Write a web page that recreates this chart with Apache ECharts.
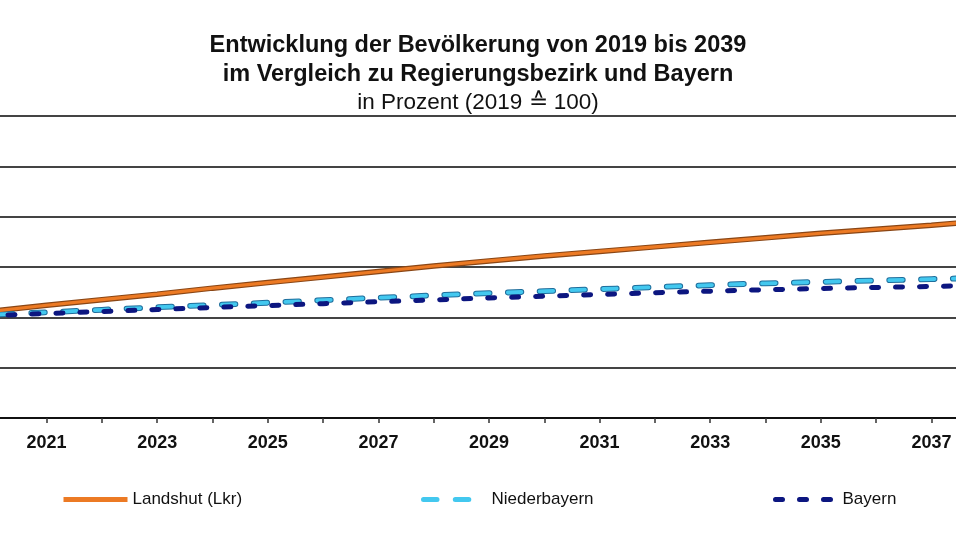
<!DOCTYPE html>
<html>

<head>
    <meta charset="utf-8">
    <title>Bevölkerungsentwicklung</title>
    <script src="https://cdn.jsdelivr.net/npm/echarts@6/dist/echarts.min.js"></script>
    <style>
        html, body { margin: 0; padding: 0; background: #fff; }
    </style>
</head>

<body>
    <div id="main" style="width: 956px;height:538px;"></div>
    <script type="text/javascript">
        // Jahre (2019 und 2039 liegen im Original außerhalb des Bildausschnitts)
        var years = ['2019', '2020', '2021', '2022', '2023', '2024', '2025', '2026', '2027', '2028', '2029',
            '2030', '2031', '2032', '2033', '2034', '2035', '2036', '2037', '2038', '2039'];

        // Werte in Prozent, 2019 = 100
        var landshut = [100.0, 100.6, 101.2, 101.75, 102.3, 102.9, 103.45, 104.0, 104.55, 105.1, 105.6,
            106.1, 106.55, 107.0, 107.45, 107.9, 108.35, 108.75, 109.15, 109.6, 110.0];
        var niederbayern = [100.0, 100.25, 100.5, 100.75, 101.0, 101.22, 101.45, 101.7, 101.95, 102.18, 102.4,
            102.6, 102.8, 103.0, 103.2, 103.38, 103.52, 103.66, 103.8, 103.93, 104.05];
        var bayern = [100.0, 100.18, 100.38, 100.58, 100.78, 100.98, 101.17, 101.36, 101.55, 101.73, 101.93,
            102.1, 102.27, 102.44, 102.6, 102.74, 102.86, 102.97, 103.07, 103.17, 103.27];

        var titleLines = [
            'Entwicklung der Bevölkerung von 2019 bis 2039',
            'im Vergleich zu Regierungsbezirk und Bayern',
            'in Prozent (2019 \u2259 100)'
        ];

        var font = 'Liberation Sans, Arial, sans-serif';

        var myChart = echarts.init(document.getElementById('main'));

        var option = {
            animation: false,
            backgroundColor: '#fff',
            title: [{
                text: titleLines[0],
                left: 'center',
                top: 32,
                padding: 0,
                textStyle: { fontFamily: font, fontSize: 23.5, fontWeight: 'bold', color: '#111', lineHeight: 28 }
            }, {
                text: titleLines[1],
                left: 'center',
                top: 61,
                padding: 0,
                textStyle: { fontFamily: font, fontSize: 23.5, fontWeight: 'bold', color: '#111', lineHeight: 28 }
            }, {
                text: titleLines[2],
                left: 'center',
                top: 89,
                padding: 0,
                textStyle: { fontFamily: font, fontSize: 22.5, fontWeight: 'normal', color: '#111', lineHeight: 28 }
            }],
            legend: [{
                data: ['Landshut (Lkr)'],
                left: 61,
                top: 491,
                padding: 0,
                itemWidth: 64,
                itemHeight: 16,
                itemStyle: { opacity: 0 },
                lineStyle: { width: 5 },
                textStyle: { fontFamily: font, fontSize: 17, color: '#111' }
            }, {
                data: ['Niederbayern'],
                left: 421,
                top: 491,
                padding: 0,
                itemWidth: 50,
                itemHeight: 16,
                itemStyle: { opacity: 0 },
                lineStyle: { width: 5 },
                textStyle: { fontFamily: font, fontSize: 17, color: '#111', padding: [0, 0, 0, 13] }
            }, {
                data: ['Bayern'],
                left: 773,
                top: 491,
                padding: 0,
                itemWidth: 58,
                itemHeight: 16,
                itemStyle: { opacity: 0 },
                lineStyle: { width: 5 },
                textStyle: { fontFamily: font, fontSize: 17, color: '#111', padding: [0, 0, 0, 4] }
            }],
            grid: {
                left: -64,
                width: 1106,
                top: 116,
                bottom: 120,
                containLabel: false,
                outerBoundsMode: 'none'
            },
            xAxis: {
                type: 'category',
                data: years,
                boundaryGap: false,
                axisLine: { lineStyle: { color: '#111', width: 2 } },
                axisTick: { show: true, interval: 0, length: 5, lineStyle: { color: '#333', width: 1.5 } },
                axisLabel: {
                    interval: function (index) { return index % 2 === 0; },
                    margin: 16,
                    fontFamily: font,
                    fontSize: 18,
                    fontWeight: 'bold',
                    color: '#111'
                },
                splitLine: { show: false }
            },
            yAxis: {
                type: 'value',
                min: 90,
                max: 120,
                interval: 5,
                axisLine: { show: false },
                axisTick: { show: false },
                axisLabel: { show: false },
                splitLine: { lineStyle: { color: '#444', width: 2 } }
            },
            series: [{
                name: 'Landshut (Lkr)',
                type: 'line',
                data: landshut,
                symbol: 'none',
                z: 5,
                lineStyle: { color: '#ec7a24', width: 3.2 }
            }, {
                name: 'Landshut-Rand',
                type: 'line',
                data: landshut,
                symbol: 'none',
                z: 4,
                silent: true,
                lineStyle: { color: '#8a4615', width: 5.5 }
            }, {
                name: 'Niederbayern',
                type: 'line',
                data: niederbayern,
                symbol: 'none',
                z: 5,
                lineStyle: { color: '#43c8ef', width: 3.8, type: [13.5, 18.3], cap: 'round' }
            }, {
                name: 'Niederbayern-Rand',
                type: 'line',
                data: niederbayern,
                symbol: 'none',
                z: 4,
                silent: true,
                lineStyle: { color: '#1f6e9c', width: 5.8, type: [13.5, 18.3], cap: 'round' }
            }, {
                name: 'Bayern',
                type: 'line',
                data: bayern,
                symbol: 'none',
                z: 6,
                lineStyle: { color: '#0c1680', width: 5, type: [7, 17], cap: 'round' }
            }]
        };

        myChart.setOption(option);
    </script>
</body>

</html>
